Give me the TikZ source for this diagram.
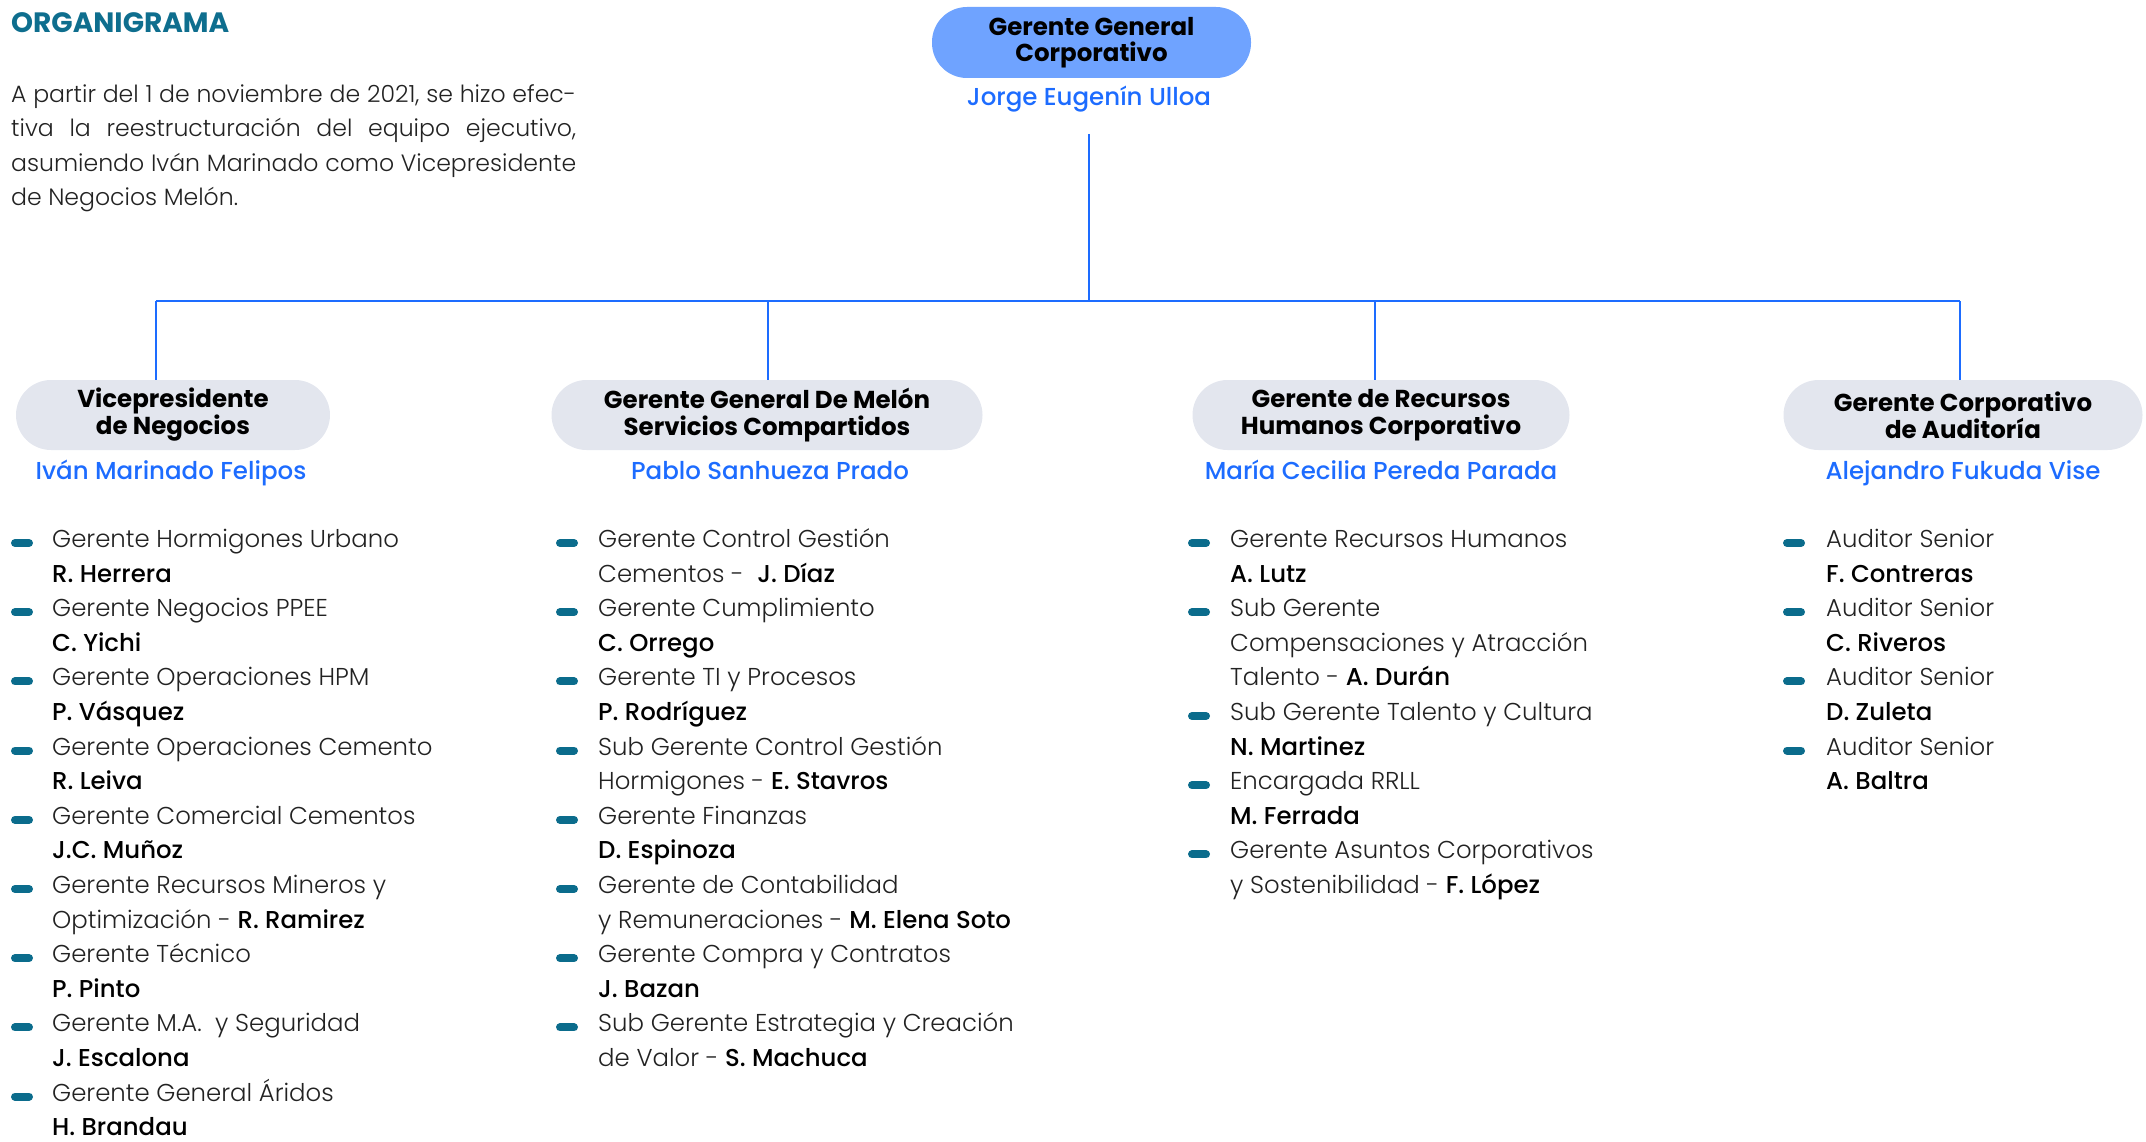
\documentclass[tikz,border=0pt]{standalone}
\usepackage{fontspec}
\setmainfont{Poppins}[UprightFont={* Light}, BoldFont={* SemiBold}]
\newfontfamily\medfont{Poppins}[UprightFont={* Medium}]
\newfontfamily\sbfont{Poppins}[UprightFont={* SemiBold}]
\newfontfamily\heavyfont{Poppins}[UprightFont={* Bold}]
\definecolor{lineblue}{HTML}{1D6CFF}
\definecolor{topfill}{HTML}{6FA3FF}
\definecolor{boxfill}{HTML}{E3E6EE}
\definecolor{teal}{HTML}{0E6E8E}
\definecolor{bulletcol}{HTML}{0B6C8C}
\definecolor{txt}{HTML}{222222}
\newcommand{\nm}[1]{{\medfont\color{black}#1}}
% name, bullet x, text x, first line index, last line index, text
\newcommand{\orgitem}[6]{%
  \node[itemtext] (#1) at (#3, {547.5+34.6*#5}) {#6};
  \draw[bulletbar] (#2+4, {543+34.6*#4}) -- (#2+18, {543+34.6*#4});
}
\begin{document}
\begin{tikzpicture}[x=1pt,y=-1pt,
  conn/.style={draw=lineblue, line width=2.6pt},
  topbox/.style={rectangle, rounded corners=35pt, fill=topfill, minimum width=319pt, minimum height=71pt, inner sep=0pt, align=center, font=\heavyfont\fontsize{24.5}{26.5}\selectfont, text=black},
  subbox/.style={rectangle, rounded corners=35pt, fill=boxfill, minimum height=70pt, inner sep=0pt, align=center, font=\heavyfont\fontsize{24.5}{27}\selectfont, text=black},
  person/.style={anchor=base, inner sep=0pt, font=\medfont\fontsize{24.5}{26}\selectfont, text=lineblue},
  itemtext/.style={anchor=base west, align=left, inner sep=0pt, font=\fontsize{24.4}{34.6}\selectfont, text=txt},
  bulletbar/.style={draw=bulletcol, line width=8pt, line cap=round}
]
\useasboundingbox (0,0) rectangle (2146,1142);

% title and paragraph
\node[anchor=base west, inner sep=0pt, font=\heavyfont\fontsize{28}{30}\selectfont, text=teal] (title) at (11,33) {ORGANIGRAMA};
\node[anchor=base west, inner sep=0pt, align=left, font=\fontsize{23.6}{34.6}\selectfont, text=txt] (intro) at (11,206) {%
\makebox[565pt][s]{A partir del 1 de noviembre de 2021, se hizo efec-}\\
\makebox[565pt][s]{tiva la reestructuración del equipo ejecutivo,}\\
\makebox[565pt][s]{asumiendo Iván Marinado como Vicepresidente}\\
de Negocios Melón.};

% top
\node[topbox] (ggc) at (1091.5,42.5) {Gerente General\\Corporativo};
\node[person] (jorge) at (1089,106) {Jorge Eugenín Ulloa};

% level 2
\node[subbox, minimum width=314pt] (vp) at (173,415) {Vicepresidente\\de Negocios};
\node[subbox, minimum width=431pt] (gsc) at (767,415) {Gerente General De Melón\\Servicios Compartidos};
\node[subbox, minimum width=377pt] (grh) at (1381,415) {Gerente de Recursos\\Humanos Corporativo};
\node[subbox, minimum width=359pt] (gau) at (1963,415) {Gerente Corporativo\\de Auditoría};

\node[person] (ivan) at (171,479) {Iván Marinado Felipos};
\node[person] (pablo) at (770,479) {Pablo Sanhueza Prado};
\node[person] (maria) at (1381,479) {María Cecilia Pereda Parada};
\node[person] (alej) at (1963,479) {Alejandro Fukuda Vise};

% connectors
\coordinate (bus) at (1089,301);
\coordinate (b1) at (156,301);
\coordinate (b2) at (768,301);
\coordinate (b3) at (1375,301);
\coordinate (b4) at (1960,301);
\draw[conn] ([yshift=-28pt]jorge.base) -- (bus);
\draw[conn] (b1) -- (b4);
\draw[conn] (b1) -- (b1 |- vp.north);
\draw[conn] (b2) -- (b2 |- gsc.north);
\draw[conn] (b3) -- (b3 |- grh.north);
\draw[conn] (b4) -- (b4 |- gau.north);

% column 1
\orgitem{a1}{11}{52}{0}{1}{Gerente Hormigones Urbano\\\nm{R. Herrera}}
\orgitem{a2}{11}{52}{2}{3}{Gerente Negocios PPEE\\\nm{C. Yichi}}
\orgitem{a3}{11}{52}{4}{5}{Gerente Operaciones HPM\\\nm{P. Vásquez}}
\orgitem{a4}{11}{52}{6}{7}{Gerente Operaciones Cemento\\\nm{R. Leiva}}
\orgitem{a5}{11}{52}{8}{9}{Gerente Comercial Cementos\\\nm{J.C. Muñoz}}
\orgitem{a6}{11}{52}{10}{11}{Gerente Recursos Mineros y\\Optimización - \nm{R. Ramirez}}
\orgitem{a7}{11}{52}{12}{13}{Gerente Técnico\\\nm{P. Pinto}}
\orgitem{a8}{11}{52}{14}{15}{Gerente M.A.\ \ y Seguridad\\\nm{J. Escalona}}
\orgitem{a9}{11}{52}{16}{17}{Gerente General Áridos\\\nm{H. Brandau}}

% column 2
\orgitem{p1}{556}{598}{0}{1}{Gerente Control Gestión\\Cementos -\ \ \nm{J. Díaz}}
\orgitem{p2}{556}{598}{2}{3}{Gerente Cumplimiento\\\nm{C. Orrego}}
\orgitem{p3}{556}{598}{4}{5}{Gerente TI y Procesos\\\nm{P. Rodríguez}}
\orgitem{p4}{556}{598}{6}{7}{Sub Gerente Control Gestión\\Hormigones - \nm{E. Stavros}}
\orgitem{p5}{556}{598}{8}{9}{Gerente Finanzas\\\nm{D. Espinoza}}
\orgitem{p6}{556}{598}{10}{11}{Gerente de Contabilidad\\y Remuneraciones - \nm{M. Elena Soto}}
\orgitem{p7}{556}{598}{12}{13}{Gerente Compra y Contratos\\\nm{J. Bazan}}
\orgitem{p8}{556}{598}{14}{15}{Sub Gerente Estrategia y Creación\\de Valor - \nm{S. Machuca}}

% column 3
\orgitem{m1}{1188}{1230}{0}{1}{Gerente Recursos Humanos\\\nm{A. Lutz}}
\orgitem{m2}{1188}{1230}{2}{4}{Sub Gerente\\Compensaciones y Atracción\\Talento - \nm{A. Durán}}
\orgitem{m3}{1188}{1230}{5}{6}{Sub Gerente Talento y Cultura\\\nm{N. Martinez}}
\orgitem{m4}{1188}{1230}{7}{8}{Encargada RRLL\\\nm{M. Ferrada}}
\orgitem{m5}{1188}{1230}{9}{10}{Gerente Asuntos Corporativos\\y Sostenibilidad - \nm{F. López}}

% column 4
\orgitem{f1}{1783}{1826}{0}{1}{Auditor Senior\\\nm{F. Contreras}}
\orgitem{f2}{1783}{1826}{2}{3}{Auditor Senior\\\nm{C. Riveros}}
\orgitem{f3}{1783}{1826}{4}{5}{Auditor Senior\\\nm{D. Zuleta}}
\orgitem{f4}{1783}{1826}{6}{7}{Auditor Senior\\\nm{A. Baltra}}
\end{tikzpicture}
\end{document}
